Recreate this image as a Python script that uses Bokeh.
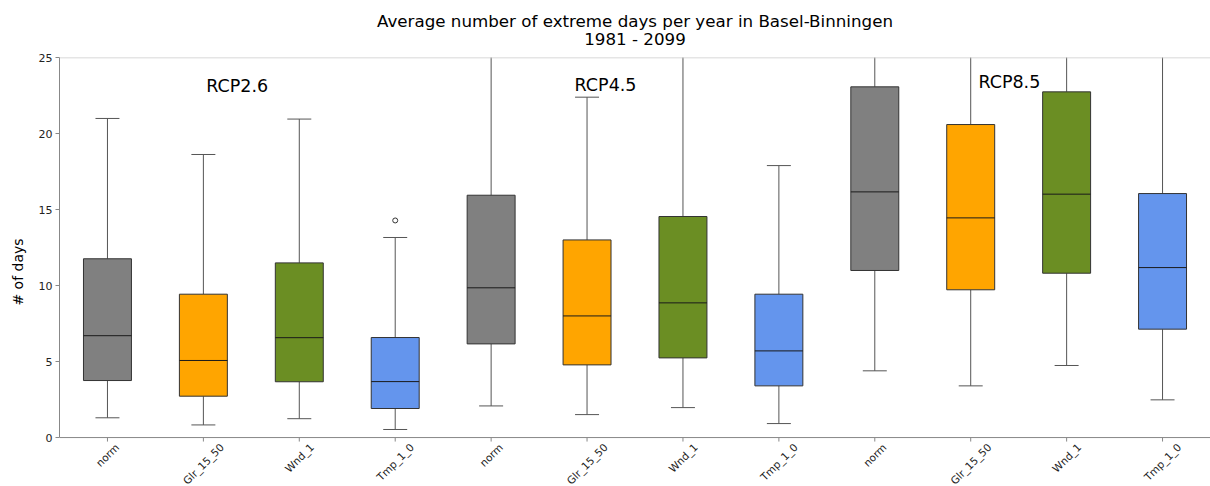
import math
from bokeh.plotting import figure
from bokeh.models import ColumnDataSource, FixedTicker, Title, Span, LabelSet
from bokeh.core.properties import value
from bokeh.embed import file_html
from bokeh.resources import INLINE

# ---- data ----
labels = ["norm", "Glr_15_50", "Wnd_1", "Tmp_1_0"] * 3
scenarios = ["RCP2.6", "RCP4.5", "RCP8.5"]
whisker_low = [1.30, 0.83, 1.24, 0.53, 2.08, 1.51, 1.97, 0.92, 4.39, 3.40, 4.74, 2.48]
q1 = [3.75, 2.72, 3.67, 1.91, 6.16, 4.78, 5.24, 3.40, 10.99, 9.72, 10.81, 7.13]
median = [6.70, 5.07, 6.57, 3.68, 9.85, 8.00, 8.86, 5.70, 16.16, 14.45, 16.01, 11.18]
q3 = [11.76, 9.43, 11.49, 6.58, 15.94, 13.00, 14.54, 9.43, 23.07, 20.59, 22.74, 16.05]
whisker_high = [20.99, 18.62, 20.95, 13.16, 28.0, 22.39, 27.5, 17.89, 36.0, 33.0, 36.0, 28.0]
outlier_idx = [3]
outlier_val = [14.28]
colors = ["grey", "orange", "olivedrab", "cornflowerblue"] * 3
scen_x = [1.03, 4.87, 9.08]
scen_y = [23.12, 23.18, 23.36]
y_ticks = [0, 5, 10, 15, 20, 25]
title_main = "Average number of extreme days per year in Basel-Binningen"
title_sub = "1981 - 2099"

FONT = "DejaVu Sans"
TICK_PX = 10.5
Y_MIN, Y_MAX = -3.22, 25          # space below 0 holds the rotated category labels
FRAME_TOP = 57
H = 486
PX_PER_UNIT = (H - FRAME_TOP) / (Y_MAX - Y_MIN)
TICK_LEN = 4 / PX_PER_UNIT

# approximate DejaVu Sans advance widths (em) for centring rotated tick labels
_w = {"n": .634, "o": .612, "r": .411, "m": .974, "G": .775, "l": .278, "_": .5,
      "1": .636, "5": .636, "0": .636, "W": .989, "d": .635, "T": .611, "p": .635}


def _label_offset(s):
    w = sum(_w.get(c, .6) for c in s) * TICK_PX
    return -(4 + (w + TICK_PX) * math.sin(math.pi / 4) / 2)


xs = list(range(len(labels)))
src = ColumnDataSource(dict(x=xs, low=whisker_low, q1=q1, med=median, q3=q3,
                            high=whisker_high, color=colors,
                            xl=[x - 0.25 for x in xs], xr=[x + 0.25 for x in xs],
                            cl=[x - 0.125 for x in xs], cr=[x + 0.125 for x in xs]))
lab_src = ColumnDataSource(dict(x=xs, y=[0] * len(xs), text=labels,
                                yoff=[_label_offset(s) for s in labels]))

p = figure(width=1210, height=H, output_backend="svg", toolbar_location=None,
           x_range=(-0.5, 11.5), y_range=(Y_MIN, Y_MAX), title=None)
p.min_border_left = 59
p.min_border_right = 0
p.min_border_top = FRAME_TOP
p.min_border_bottom = 0
p.outline_line_color = None
p.background_fill_color = "white"
p.border_fill_color = "white"
p.grid.visible = False

# whiskers
wc = "#555555"
p.segment(x0="x", y0="q3", x1="x", y1="high", source=src, line_color=wc, line_width=1)
p.segment(x0="x", y0="low", x1="x", y1="q1", source=src, line_color=wc, line_width=1)
p.segment(x0="cl", y0="high", x1="cr", y1="high", source=src, line_color=wc, line_width=1)
p.segment(x0="cl", y0="low", x1="cr", y1="low", source=src, line_color=wc, line_width=1)
# boxes
p.vbar(x="x", width=0.5, bottom="q1", top="q3", source=src, fill_color="color",
       line_color="#333333", line_width=1)
# medians
p.segment(x0="xl", y0="med", x1="xr", y1="med", source=src, line_color="#1a1a1a", line_width=1)
# outliers
p.scatter(x=outlier_idx, y=outlier_val, size=5, fill_color=None, line_color="#333333", line_width=1)

# scenario labels
p.text(x=scen_x, y=scen_y, text=scenarios, text_font=value(FONT), text_font_size="17.5px",
       text_align="left", text_baseline="alphabetic", text_color="black")

# spines
p.add_layout(Span(location=Y_MAX, dimension="width", line_color="#cccccc", line_width=1.5))
p.add_layout(Span(location=0, dimension="width", line_color="#888888", line_width=1))
# x tick marks below the bottom spine
p.segment(x0=xs, y0=[0] * len(xs), x1=xs, y1=[-TICK_LEN] * len(xs), line_color="#888888", line_width=1)

# x axis replaced by centred rotated labels (matplotlib style)
p.xaxis.visible = False
p.add_layout(LabelSet(x="x", y="y", text="text", source=lab_src, y_offset="yoff",
                      angle=math.pi / 4, text_align="center", text_baseline="middle",
                      text_font=value(FONT), text_font_size=f"{TICK_PX}px", text_color="#222222"))

ax = p.yaxis[0]
ax.bounds = (0, Y_MAX)
ax.axis_line_color = "#888888"
ax.major_tick_line_color = "#888888"
ax.major_tick_out = 4
ax.major_tick_in = 0
ax.minor_tick_line_color = None
ax.major_label_text_font = FONT
ax.major_label_text_font_size = "11px"
ax.major_label_text_color = "#222222"
ax.major_label_standoff = 3
ax.ticker = FixedTicker(ticks=y_ticks)
ax.axis_label = "# of days"
ax.axis_label_text_font = FONT
ax.axis_label_text_font_size = "14px"
ax.axis_label_text_font_style = "normal"
ax.axis_label_text_color = "black"
ax.axis_label_standoff = 10

p.add_layout(Title(text=title_sub, align="center", text_font=FONT, text_color="black",
                   text_font_size="16.7px", text_font_style="normal", standoff=18), "above")
p.add_layout(Title(text=title_main, align="center", text_font=FONT, text_color="black",
                   text_font_size="16.7px", text_font_style="normal", standoff=-26), "above")

open("out.html", "w").write(file_html(p, INLINE))
